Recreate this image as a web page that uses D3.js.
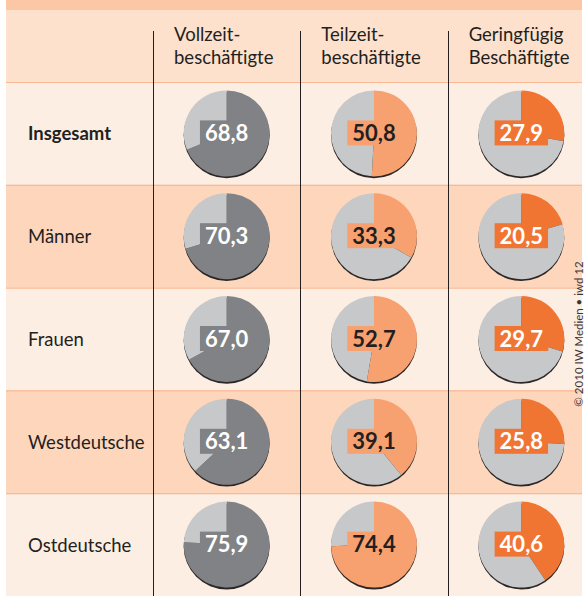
<!DOCTYPE html>
<html>
<head>
<meta charset="utf-8">
<script src="https://cdn.jsdelivr.net/npm/d3@7"></script>
<style>
  body { margin: 0; background: #fff; }
  svg { display: block; font-family: "Lato", "Open Sans", sans-serif; }
</style>
</head>
<body>
<div class="chart"></div>
<script>
const width = 587;
const height = 596;

// data
const groups = ["Insgesamt", "Männer", "Frauen", "Westdeutsche", "Ostdeutsche"];
const columns = [
  ["Vollzeit-", "beschäftigte"],
  ["Teilzeit-", "beschäftigte"],
  ["Geringfügig", "Beschäftigte"]
];
const vollzeit = [68.8, 70.3, 67.0, 63.1, 75.9];
const teilzeit = [50.8, 33.3, 52.7, 39.1, 74.4];
const geringfuegig = [27.9, 20.5, 29.7, 25.8, 40.6];
const series = [vollzeit, teilzeit, geringfuegig];

const sliceColor = ["#808285", "#f8a170", "#f07533"];
const labelColor = ["#ffffff", "#231f20", "#ffffff"];
const restColor = "#c7c8ca";

const fmt = v => d3.format(".1f")(v).replace(".", ",");

const svg = d3.select(".chart")
  .append("svg")
  .attr("width", width)
  .attr("height", height);

const y = d3.scaleBand()
  .domain(groups)
  .range([82, 596]);

const x = d3.scaleBand()
  .domain(d3.range(columns.length))
  .range([153, 595]);

// backgrounds
svg.append("rect")
  .attr("x", 6).attr("y", 0)
  .attr("width", 576).attr("height", 10)
  .attr("fill", "#fbc7a5");

svg.append("rect")
  .attr("x", 6).attr("y", 10)
  .attr("width", 576).attr("height", 72)
  .attr("fill", "#fde1cd");

svg.append("g")
  .selectAll("rect")
  .data(groups)
  .join("rect")
  .attr("x", 6)
  .attr("y", d => y(d))
  .attr("width", 576)
  .attr("height", y.bandwidth() + 1)
  .attr("fill", (d, i) => i % 2 ? "#fdd6bc" : "#fdeee3");

svg.append("g")
  .selectAll("line")
  .data(groups)
  .join("line")
  .attr("x1", 6).attr("x2", 582)
  .attr("y1", d => y(d) + 0.5)
  .attr("y2", d => y(d) + 0.5)
  .attr("stroke", "#f8b994")
  .attr("stroke-width", 1.2);

// column dividers
svg.append("g")
  .selectAll("line")
  .data(columns)
  .join("line")
  .attr("x1", (d, i) => Math.round(x(i)) + 0.5)
  .attr("x2", (d, i) => Math.round(x(i)) + 0.5)
  .attr("y1", 31)
  .attr("y2", height)
  .attr("stroke", "#231f20")
  .attr("stroke-width", 1);

// header
const head = svg.append("g")
  .selectAll("text")
  .data(columns)
  .join("text")
  .attr("x", (d, i) => x(i) + 21)
  .attr("y", 41)
  .attr("font-size", 18.5)
  .attr("fill", "#231f20");

head.selectAll("tspan")
  .data(d => d)
  .join("tspan")
  .attr("x", function () { return d3.select(this.parentNode).attr("x"); })
  .attr("dy", (d, i) => i ? 23 : 0)
  .text(d => d);

// row labels
svg.append("g")
  .selectAll("text")
  .data(groups)
  .join("text")
  .attr("x", 28)
  .attr("y", d => y(d) + y.bandwidth() / 2 + 7)
  .attr("font-size", 18.5)
  .attr("font-weight", (d, i) => i === 0 ? "bold" : "normal")
  .attr("fill", "#231f20")
  .text(d => d);

// pies
const r = 43;
const pie = d3.pie().sort(null).value(d => d);
const arc = d3.arc().innerRadius(0).outerRadius(r);

series.forEach((values, c) => {
  values.forEach((v, g) => {
    const cx = x(c) + x.bandwidth() / 2;
    const cy = y(groups[g]) + y.bandwidth() / 2;
    const cell = svg.append("g")
      .attr("transform", `translate(${cx},${cy})`);

    cell.append("circle")
      .attr("cy", 1.8)
      .attr("r", r)
      .attr("fill", "#2b2727");

    cell.selectAll("path")
      .data(pie([v, 100 - v]))
      .join("path")
      .attr("d", arc)
      .attr("fill", (d, i) => i === 0 ? sliceColor[c] : restColor);

    const label = cell.append("text")
      .attr("x", 0)
      .attr("y", 7.5)
      .attr("text-anchor", "middle")
      .attr("font-size", 22)
      .attr("font-weight", "bold")
      .attr("fill", labelColor[c])
      .text(fmt(v));

    const bb = label.node().getBBox();
    cell.insert("rect", "text")
      .attr("x", bb.x - 5)
      .attr("y", -13)
      .attr("width", bb.width + 10)
      .attr("height", 25)
      .attr("fill", sliceColor[c]);
  });
});

// source note
svg.append("text")
  .attr("transform", "translate(583,334) rotate(-90)")
  .attr("text-anchor", "middle")
  .attr("font-size", 11.5)
  .attr("fill", "#3a3536")
  .text("© 2010 IW Medien • iwd 12");
</script>
</body>
</html>
